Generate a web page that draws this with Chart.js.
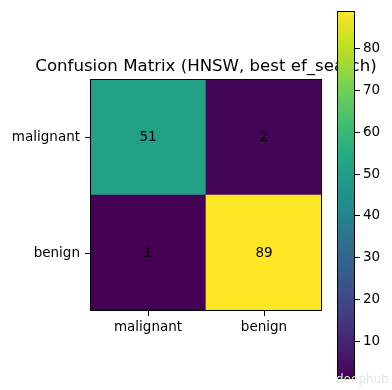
<!DOCTYPE html>
<html>
<head>
<meta charset="utf-8">
<script src="https://cdn.jsdelivr.net/npm/chart.js@4"></script>
<style>
  html, body { margin: 0; padding: 0; background: #fff; }
  #wrap { position: relative; width: 392px; height: 390px; }
  #wrap canvas { position: absolute; left: 0; top: 0; }
  #mark { position: absolute; left: 336px; top: 372px; font: 12px "DejaVu Sans", sans-serif; color: #e4e4e4; }
</style>
</head>
<body>
<div id="wrap">
  <canvas id="matriz" width="392" height="390"></canvas>
  <canvas id="barra" width="392" height="390"></canvas>
  <div id="mark">deephub</div>
</div>
<script>
// data
const predLabels = ["malignant", "benign"];
const trueLabels = ["malignant", "benign"];
const malignantRow = [51, 2];
const benignRow = [1, 89];
const colorbarTicks = [10, 20, 30, 40, 50, 60, 70, 80];
const titulo = "Confusion Matrix (HNSW, best ef_search)";

const vmin = Math.min(...malignantRow, ...benignRow);
const vmax = Math.max(...malignantRow, ...benignRow);

// viridis
const viridis = ["#440154", "#482475", "#414487", "#355f8d", "#2a788e", "#21918c",
                 "#22a884", "#44bf70", "#7ad151", "#bddf26", "#fde725"];

function hexRgb(h) {
  return [1, 3, 5].map(i => parseInt(h.slice(i, i + 2), 16));
}

function colorFor(v) {
  let t = (v - vmin) / (vmax - vmin);
  t = Math.max(0, Math.min(1, t)) * (viridis.length - 1);
  const i = Math.min(Math.floor(t), viridis.length - 2);
  const f = t - i;
  const a = hexRgb(viridis[i]), b = hexRgb(viridis[i + 1]);
  const c = a.map((x, k) => Math.round(x + (b[k] - x) * f));
  return `rgb(${c[0]},${c[1]},${c[2]})`;
}

const FONT = "'DejaVu Sans', sans-serif";
Chart.defaults.font.family = FONT;
Chart.defaults.color = "#000";
Chart.defaults.animation = false;

const marco = {
  id: "marco",
  afterDraw(chart) {
    const a = chart.chartArea, ctx = chart.ctx;
    ctx.save();
    ctx.strokeStyle = "#000";
    ctx.lineWidth = 1;
    ctx.strokeRect(Math.round(a.left) + 0.5, Math.round(a.top) + 0.5,
      Math.round(a.right - a.left) - 1, Math.round(a.bottom - a.top) - 1);
    ctx.restore();
  }
};

// titulo centrado sobre los ejes, como matplotlib
const encabezado = {
  id: "encabezado",
  afterDraw(chart) {
    const a = chart.chartArea, ctx = chart.ctx;
    ctx.save();
    ctx.font = "16.6px " + FONT;
    ctx.fillStyle = "#000";
    ctx.textAlign = "center";
    ctx.textBaseline = "alphabetic";
    ctx.fillText(titulo, (a.left + a.right) / 2, a.top - 8.5);
    ctx.restore();
  }
};

const numeros = {
  id: "numeros",
  afterDatasetsDraw(chart) {
    const ctx = chart.ctx;
    ctx.save();
    ctx.font = "13.5px " + FONT;
    ctx.fillStyle = "#000";
    ctx.textAlign = "center";
    ctx.textBaseline = "middle";
    chart.data.datasets.forEach((ds, d) => {
      chart.getDatasetMeta(d).data.forEach((bar, i) => {
        const p = bar.getProps(["x", "y", "base"]);
        ctx.fillText(String(ds.counts[i]), p.x, (p.y + p.base) / 2);
      });
    });
    ctx.restore();
  }
};

// matriz
new Chart(document.getElementById("matriz"), {
  type: "bar",
  data: {
    labels: predLabels,
    datasets: [
      {
        label: trueLabels[1],
        counts: benignRow,
        data: benignRow.map(() => 1),
        backgroundColor: benignRow.map(colorFor)
      },
      {
        label: trueLabels[0],
        counts: malignantRow,
        data: malignantRow.map(() => 1),
        backgroundColor: malignantRow.map(colorFor)
      }
    ]
  },
  options: {
    responsive: false,
    layout: { padding: { left: 0, top: 79, right: 70, bottom: 0 } },
    datasets: { bar: { barPercentage: 1, categoryPercentage: 1, borderWidth: 0 } },
    plugins: {
      legend: { display: false },
      tooltip: { enabled: false },
      title: { display: false }
    },
    scales: {
      x: {
        stacked: true,
        grid: { display: true, drawOnChartArea: false, offset: false, color: "#000", tickLength: 5 },
        border: { display: false },
        ticks: { font: { size: 13.5 }, padding: 3, maxRotation: 0 },
        afterFit(s) { s.height = 79; }
      },
      y: {
        stacked: true,
        min: 0,
        max: 2,
        grid: { display: true, drawOnChartArea: false, color: "#000", tickLength: 5 },
        border: { display: false },
        afterBuildTicks(s) { s.ticks = [{ value: 0.5 }, { value: 1.5 }]; },
        ticks: {
          font: { size: 13.5 },
          padding: 5,
          callback: v => (v === 1.5 ? trueLabels[0] : trueLabels[1])
        },
        afterFit(s) { s.width = 90; }
      }
    }
  },
  plugins: [marco, encabezado, numeros]
});

// barra de color
function gradiente(context) {
  const chart = context.chart;
  const y = chart.scales.y;
  if (!chart.chartArea || !y) return viridis[0];
  const g = chart.ctx.createLinearGradient(0, y.getPixelForValue(vmin), 0, y.getPixelForValue(vmax));
  viridis.forEach((c, i) => g.addColorStop(i / (viridis.length - 1), c));
  return g;
}

new Chart(document.getElementById("barra"), {
  type: "bar",
  data: {
    labels: [""],
    datasets: [{ data: [[vmin, vmax]], backgroundColor: gradiente, borderWidth: 0 }]
  },
  options: {
    responsive: false,
    layout: { padding: { left: 337, top: 10, right: 0, bottom: 9 } },
    datasets: { bar: { barPercentage: 1, categoryPercentage: 1 } },
    plugins: { legend: { display: false }, tooltip: { enabled: false }, title: { display: false } },
    scales: {
      x: { display: false },
      y: {
        position: "right",
        min: vmin,
        max: vmax,
        grid: { display: true, drawOnChartArea: false, color: "#000", tickLength: 5 },
        border: { display: false },
        afterBuildTicks(s) { s.ticks = colorbarTicks.map(v => ({ value: v })); },
        ticks: { font: { size: 13.5 }, padding: 3 },
        afterFit(s) { s.width = 37; }
      }
    }
  },
  plugins: [marco]
});
</script>
</body>
</html>
